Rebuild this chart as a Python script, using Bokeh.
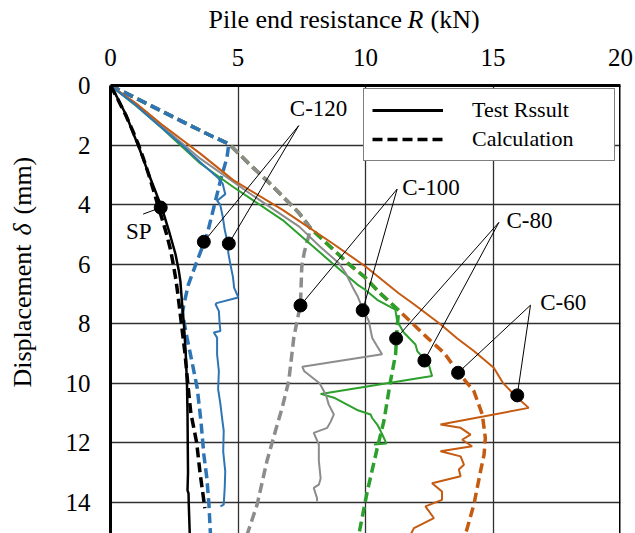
import math
from bokeh.plotting import figure
from bokeh.layouts import column, row
from bokeh.models import Range1d, FixedTicker, Span, Legend, LegendItem
from bokeh.core.properties import value
from bokeh.embed import file_html
from bokeh.resources import INLINE

FONT = "'Liberation Serif', 'Times New Roman', serif"

# ---------------- data (R in kN, displacement in mm) ----------------
x_ticks = [0, 5, 10, 15, 20]
y_ticks = [0, 2, 4, 6, 8, 10, 12, 14]

# SP
sp_test_d = [0, 0.3, 0.62, 1.0, 1.52, 2.0, 2.53, 3.0, 3.42, 4.15, 4.88, 5.67, 6.23, 6.57, 7.35, 8.02, 9.0, 10.04, 11.0, 12.06, 13.0, 13.6, 13.7, 14.08, 15.1]
sp_test_R = [0, 0.2, 0.39, 0.62, 0.85, 1.08, 1.31, 1.51, 1.7, 2.03, 2.29, 2.55, 2.68, 2.74, 2.81, 2.88, 2.95, 3.0, 3.02, 3.03, 3.04, 3.02, 3.06, 3.07, 3.11]
sp_calc_d = [0, 0.5, 1, 1.5, 2, 2.5, 3, 3.5, 4, 4.5, 5, 5.5, 6, 6.5, 7, 8, 9, 10, 11, 12, 13, 14.2]
sp_calc_R = [0, 0.31, 0.6, 0.86, 1.1, 1.31, 1.5, 1.68, 1.85, 2.03, 2.2, 2.35, 2.46, 2.56, 2.64, 2.78, 2.92, 3.03, 3.15, 3.38, 3.51, 3.7]

# C-120
c120_test_d = [0, 0.6, 1.3, 2.0, 2.57, 3.09, 3.3, 3.65, 3.87, 4.0, 4.4, 4.85, 5.3, 5.63, 6.0, 6.42, 6.8, 7.09, 7.13, 7.31, 7.35, 7.58, 8.0, 8.25, 8.3, 8.47, 9.03, 9.6, 10.2, 10.7, 11.2, 11.6, 12.3, 12.96, 13.5, 14.08, 14.14]
c120_test_R = [0, 0.9, 1.85, 2.8, 3.51, 4.2, 4.4, 4.5, 4.18, 4.3, 4.4, 4.48, 4.6, 4.62, 4.7, 4.8, 4.85, 5.0, 4.97, 4.16, 4.12, 4.25, 4.28, 4.31, 4.05, 4.18, 4.18, 4.25, 4.22, 4.31, 4.38, 4.44, 4.42, 4.5, 4.48, 4.44, 4.31]
c120_calc_d = [0, 0.67, 1.29, 1.68, 1.96, 2.41, 3.2, 4.1, 5.0, 6.0, 6.7, 7.35, 7.65, 8.47, 9.3, 10.16, 11.3, 12.4, 13.2, 14.08, 15.08]
c120_calc_R = [0, 1.57, 3.0, 3.92, 4.64, 4.57, 4.31, 4.05, 3.79, 3.35, 3.05, 2.88, 2.82, 3.0, 3.2, 3.4, 3.55, 3.66, 3.78, 3.86, 3.92]

# C-100
c100_test_d = [0, 0.62, 1.35, 2.45, 3.62, 4.74, 5.4, 5.97, 6.3, 6.75, 7.1, 7.46, 7.91, 8.47, 8.75, 9.03, 9.45, 9.6, 9.8, 10.0, 10.4, 10.72, 11.05, 11.3, 11.5, 11.67, 12.06, 12.6, 13.2, 13.41, 13.52, 13.86, 13.97]
c100_test_R = [0, 1.0, 2.0, 3.51, 5.45, 7.4, 8.2, 8.96, 9.22, 9.48, 9.7, 9.87, 10.13, 10.26, 10.45, 10.65, 7.52, 7.6, 7.9, 8.2, 8.45, 8.56, 8.76, 8.63, 8.5, 7.97, 8.17, 8.17, 8.24, 8.17, 7.97, 8.1, 8.1]
c100_calc_d = [0, 0.67, 1.29, 1.68, 1.96, 2.6, 3.17, 3.75, 4.29, 4.8, 5.1, 5.6, 6.1, 7.35, 8.46, 9.93, 10.83, 11.6, 12.6, 14.08, 15.08]
c100_calc_R = [0, 1.57, 3.0, 3.92, 4.64, 5.4, 6.1, 6.78, 7.4, 7.85, 7.76, 7.6, 7.5, 7.45, 7.19, 6.99, 6.73, 6.47, 6.14, 5.75, 5.36]

# C-80
c80_test_d = [0, 0.68, 1.42, 2.61, 3.4, 4.52, 5.97, 6.68, 6.87, 7.2, 7.53, 7.91, 8.3, 8.7, 8.92, 9.37, 9.76, 10.36, 10.5, 10.72, 10.9, 11.05, 11.17, 11.39, 11.6, 11.8, 12.03, 12.06]
c80_test_R = [0, 1.0, 2.0, 3.51, 4.8, 6.75, 8.7, 9.67, 10.0, 10.46, 11.17, 11.24, 11.5, 11.96, 12.03, 12.48, 12.61, 8.24, 8.8, 9.28, 9.67, 10.2, 10.26, 10.46, 10.59, 10.7, 10.82, 10.33]
c80_calc_d = [0, 0.67, 1.29, 1.68, 1.96, 2.6, 3.17, 3.75, 4.29, 4.8, 5.4, 6.0, 6.42, 7.0, 7.55, 8.14, 9.03, 9.93, 11.28, 12.18, 13.64, 15.08]
c80_calc_R = [0, 1.57, 3.0, 3.92, 4.64, 5.4, 6.1, 6.78, 7.4, 7.85, 8.6, 9.35, 9.95, 10.6, 11.3, 11.24, 11.18, 10.98, 10.72, 10.46, 10.07, 9.74]

# C-60
c60_test_d = [0, 0.6, 1.3, 2.28, 3.17, 4.18, 5.3, 6.08, 6.98, 7.35, 8.02, 8.5, 8.92, 9.48, 10.0, 10.38, 10.83, 11.39, 11.5, 11.73, 11.9, 12.12, 12.29, 12.46, 12.74, 12.9, 13.13, 13.36, 13.64, 13.92, 14.14, 14.53, 14.87, 15.1]
c60_test_R = [0, 1.0, 2.0, 3.51, 4.8, 6.75, 8.7, 10.0, 11.3, 11.9, 12.94, 13.6, 14.25, 15.03, 15.4, 15.82, 16.4, 12.94, 13.73, 14.12, 13.79, 14.18, 12.94, 13.73, 13.86, 13.66, 13.73, 12.61, 13.0, 13.0, 12.35, 12.68, 11.9, 11.76]
c60_calc_d = [0, 0.67, 1.29, 1.68, 1.96, 2.6, 3.17, 3.75, 4.29, 4.8, 5.4, 6.0, 6.42, 7.0, 7.55, 8.47, 9.0, 9.6, 10.27, 11.05, 11.84, 12.4, 12.96, 14.08, 15.08]
c60_calc_R = [0, 1.57, 3.0, 3.92, 4.64, 5.4, 6.1, 6.78, 7.4, 7.85, 8.6, 9.35, 9.95, 10.6, 11.3, 12.42, 13.1, 13.6, 14.25, 14.58, 14.7, 14.65, 14.51, 14.25, 13.92]

# annotations: label, label position, leader convergence point, marked points
ann_labels = ["C-120", "C-100", "C-80", "C-60", "SP"]
ann_label_R = [8.16, 12.57, 16.43, 17.75, 1.11]
ann_label_d = [0.77, 3.43, 4.55, 7.3, 4.91]
ann_hub_R = [7.38, 11.24, 15.23, 16.47, 1.28]
ann_hub_d = [1.35, 3.48, 4.6, 7.38, 4.32]
ann_pts_R = [[3.66, 4.64], [7.45, 9.89], [11.2, 12.31], [13.63, 15.95], [1.97]]
ann_pts_d = [[5.25, 5.31], [7.39, 7.55], [8.5, 9.24], [9.65, 10.41], [4.1]]

legend_labels = ["Test Rssult", "Calculation"]
x_title = ["Pile end resistance", "R", "(kN)"]
y_title = ["Displacement", "δ", "(mm)"]

# ---------------- layout geometry ----------------
W, H = 635, 533
TOP_H = 34
LEFT_W = 55
FRAME_LEFT, FRAME_TOP, FRAME_RIGHT = 110, 85, 620

BLUE = "#2E75B6"
GRAY = "#8C8C8C"
GREEN = "#2CA02C"
ORANGE = "#C55A11"
DASH = "10 5"


def blank_fig(w, h, y0, y1, top_border=0):
    # frame uses page pixel coordinates (y grows downward)
    f = figure(width=w, height=h, output_backend="svg", toolbar_location=None,
               x_range=Range1d(0, w), y_range=Range1d(y1, y0),
               min_border=0, min_border_top=top_border, x_axis_type=None, y_axis_type=None)
    f.outline_line_color = None
    f.xgrid.visible = False
    f.ygrid.visible = False
    f.background_fill_color = "white"
    f.border_fill_color = "white"
    return f


# ---------------- main plot ----------------
p = figure(width=W - LEFT_W, height=H - TOP_H, output_backend="svg", toolbar_location=None,
           x_axis_location="above",
           x_range=Range1d(0, 20), y_range=Range1d(15.05, 0),
           min_border_left=FRAME_LEFT - LEFT_W, min_border_right=W - FRAME_RIGHT,
           min_border_top=FRAME_TOP - TOP_H, min_border_bottom=0)
p.outline_line_color = None
p.background_fill_color = "white"
p.border_fill_color = "white"

for ax in (p.xaxis[0], p.yaxis[0]):
    ax.major_tick_in = 0
    ax.major_tick_out = 0
    ax.minor_tick_in = 0
    ax.minor_tick_out = 0
    ax.axis_line_width = 3
    ax.axis_line_color = "black"
    ax.major_label_text_font = FONT
    ax.major_label_text_font_size = "25px"
    ax.major_label_text_color = "black"
p.xaxis.ticker = FixedTicker(ticks=x_ticks)
p.yaxis.ticker = FixedTicker(ticks=y_ticks)
p.xaxis.major_label_standoff = 20
p.yaxis.major_label_standoff = 20

p.xgrid.ticker = FixedTicker(ticks=x_ticks)
p.ygrid.ticker = FixedTicker(ticks=y_ticks)
for g in (p.xgrid[0], p.ygrid[0]):
    g.grid_line_color = "#303030"
    g.grid_line_width = 1.3

p.add_layout(Span(location=20, dimension="height", line_color="black", line_width=3))

# calculation curves (dashed)
p.line(c60_calc_R, c60_calc_d, line_color=ORANGE, line_width=3.5, line_dash=DASH)
p.line(c80_calc_R, c80_calc_d, line_color=GREEN, line_width=3.5, line_dash=DASH)
p.line(c100_calc_R, c100_calc_d, line_color=GRAY, line_width=3.5, line_dash=DASH)
p.line(c120_calc_R, c120_calc_d, line_color=BLUE, line_width=3.5, line_dash=DASH)

# test curves
p.line(c80_test_R, c80_test_d, line_color=GREEN, line_width=2)
p.line(c100_test_R, c100_test_d, line_color=GRAY, line_width=2)
p.line(c60_test_R, c60_test_d, line_color=ORANGE, line_width=2)
p.line(c120_test_R, c120_test_d, line_color=BLUE, line_width=2)

p.line(sp_test_R, sp_test_d, line_color="black", line_width=2.5)
p.line(sp_calc_R, sp_calc_d, line_color="black", line_width=3.5, line_dash=DASH)

# annotations
for i in range(len(ann_labels)):
    xs0, ys0, xs1, ys1 = [], [], [], []
    for r, d in zip(ann_pts_R[i], ann_pts_d[i]):
        xs0.append(r); ys0.append(d); xs1.append(ann_hub_R[i]); ys1.append(ann_hub_d[i])
    p.segment(xs0, ys0, xs1, ys1, line_color="black", line_width=1)
    p.scatter(ann_pts_R[i], ann_pts_d[i], size=13, color="black")
p.text(ann_label_R, ann_label_d, text=ann_labels, text_font=value(FONT),
       text_font_size="23px", text_align="center", text_baseline="middle", text_color="black")

# legend (proxy renderers, no visible data)
nan = float("nan")
r_solid = p.line(x=[nan], y=[nan], line_color="black", line_width=3)
r_dash = p.line(x=[nan], y=[nan], line_color="black", line_width=3.5, line_dash=DASH)
legend = Legend(items=[LegendItem(label=legend_labels[0], renderers=[r_solid]),
                       LegendItem(label=legend_labels[1], renderers=[r_dash])],
                location=(253, 372), margin=0, padding=8, spacing=3,
                glyph_width=71, glyph_height=24, label_height=24, label_width=134,
                label_standoff=29, label_text_font=FONT, label_text_font_size="22px",
                label_text_color="black",
                border_line_color="black", border_line_width=1,
                background_fill_color="white", background_fill_alpha=1)
p.add_layout(legend, "center")

# ---------------- axis titles (upright / italic pieces) ----------------
FS = 26
top = blank_fig(W, TOP_H, 0, TOP_H)
x_title_left = [208.0, 407.0, 430.0]
for i, s in enumerate(x_title):
    top.text([x_title_left[i]], [19], text=[s], text_font=value(FONT), text_font_size=f"{FS}px",
             text_font_style="italic" if i == 1 else "normal",
             text_align="left", text_baseline="middle", text_color="black")

# left strip: frame aligned with the main frame (page y 85..533)
left = blank_fig(LEFT_W, H - TOP_H, FRAME_TOP, H, top_border=FRAME_TOP - TOP_H)
y_title_start = [387.0, 235.0, 214.0]   # page y where each piece starts (reads upward)
for i, s in enumerate(y_title):
    left.text([22], [y_title_start[i]], text=[s], angle=math.pi / 2, text_font=value(FONT),
              text_font_size=f"{FS}px", text_font_style="italic" if i == 1 else "normal",
              text_align="left", text_baseline="middle", text_color="black")

layout = column(top, row(left, p, spacing=0), spacing=0)
open("out.html", "w").write(file_html(layout, INLINE))
